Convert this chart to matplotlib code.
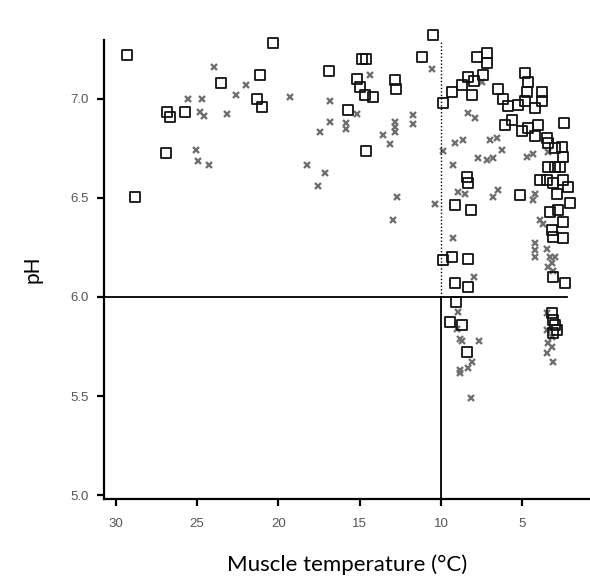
import matplotlib
matplotlib.use("Agg")
import matplotlib.pyplot as plt
from matplotlib.markers import MarkerStyle

# open squares: (muscle temperature, pH)
sq_temp = [29.33, 28.8, 23.55, 21.13, 20.35, 21.34, 21.03, 26.83, 26.67, 25.74, 26.91,
           10.47, 11.19, 16.87, 14.88, 14.61, 15.18, 14.98, 14.67, 14.2, 12.83, 12.77, 15.74,
           14.61, 9.86, 9.34, 8.73, 8.32, 8.0, 8.11, 7.8, 8.42, 8.32, 9.14, 8.17,
           7.19, 7.19, 7.4, 4.83, 4.63, 6.47, 6.16, 5.86, 5.25, 4.73, 4.83, 3.81, 3.81, 4.22,
           6.06, 5.65, 5.04, 4.63, 4.02, 4.22, 3.5, 2.44, 3.4, 2.99, 2.58, 2.48, 2.68, 3.4, 2.99,
           3.91, 3.5, 3.09, 2.48, 2.17, 2.07, 2.89, 5.14, 3.3, 2.78, 2.48, 3.19, 3.09, 2.48,
           3.09, 2.37, 9.86, 9.34, 8.32, 9.14, 8.32,
           9.08, 9.45, 8.73, 8.38, 3.19, 3.09, 2.99, 2.89, 3.09]
sq_ph = [7.22, 6.505, 7.08, 7.12, 7.28, 7.0, 6.955, 6.93, 6.905, 6.93, 6.727,
         7.32, 7.21, 7.14, 7.2, 7.2, 7.097, 7.06, 7.02, 7.01, 7.093, 7.05, 6.94,
         6.737, 6.98, 7.034, 7.07, 7.11, 7.09, 7.02, 7.21, 6.606, 6.573, 6.463, 6.44,
         7.23, 7.18, 7.12, 7.127, 7.085, 7.05, 7.0, 6.96, 6.967, 7.034, 6.99, 7.034, 6.99, 6.95,
         6.866, 6.89, 6.838, 6.85, 6.866, 6.81, 6.8, 6.878, 6.774, 6.75, 6.757, 6.707, 6.657, 6.657, 6.657,
         6.59, 6.59, 6.573, 6.59, 6.556, 6.472, 6.52, 6.514, 6.43, 6.44, 6.38, 6.338, 6.304, 6.295,
         6.1, 6.07, 6.186, 6.2, 6.19, 6.07, 6.05,
         5.976, 5.876, 5.86, 5.725, 5.918, 5.884, 5.86, 5.834, 5.817]

# crosses: (muscle temperature, pH)
cr_temp = [23.96, 22.0, 22.63, 25.54, 24.72, 24.8, 24.6, 23.18, 25.07, 24.93, 24.25, 19.29,
           10.57, 14.4, 16.83, 15.15, 16.83, 15.84, 15.84, 17.44, 12.83, 12.83, 12.83, 13.55,
           13.14, 11.7, 11.7, 9.86, 18.26, 17.13, 17.55, 12.69, 10.37, 12.93, 8.32, 7.9,
           9.14, 8.67, 9.24, 7.7, 8.93, 8.52,
           7.5, 6.99, 6.57, 6.27, 7.19, 6.78, 4.73, 4.32, 3.4, 6.78, 6.47, 4.32, 4.22,
           3.91, 3.71, 4.22, 4.22, 4.22, 3.5, 3.3, 3.2, 3.4, 3.1, 3.0, 9.24, 8.0, 8.93, 3.5,
           9.03, 8.83, 8.73, 7.64, 8.11, 8.32, 8.83, 8.83, 8.17,
           3.5, 3.4, 3.5, 3.09, 3.19, 3.19]
cr_ph = [7.157, 7.07, 7.02, 7.0, 7.0, 6.93, 6.91, 6.92, 6.74, 6.685, 6.665, 7.01,
         7.15, 7.12, 6.99, 6.92, 6.88, 6.875, 6.845, 6.83, 6.88, 6.855, 6.83, 6.815,
         6.77, 6.917, 6.87, 6.737, 6.665, 6.626, 6.56, 6.505, 6.467, 6.39, 6.925, 6.9,
         6.777, 6.79, 6.665, 6.7, 6.53, 6.52,
         7.085, 6.79, 6.8, 6.74, 6.69, 6.7, 6.707, 6.72, 6.73, 6.505, 6.54, 6.49, 6.52,
         6.39, 6.37, 6.27, 6.237, 6.2, 6.24, 6.2, 6.17, 6.15, 6.13, 6.2, 6.295, 6.1, 5.926, 5.92,
         5.84, 5.79, 5.78, 5.78, 5.674, 5.64, 5.632, 5.616, 5.49,
         5.834, 5.767, 5.716, 5.674, 5.8, 5.75]

x_ticks = [30, 25, 20, 15, 10, 5]
y_ticks = [5.0, 5.5, 6.0, 6.5, 7.0]

fig = plt.figure(figsize=(5.90, 5.79), dpi=100)
ax = fig.add_axes([104 / 590, 80 / 579, 486 / 590, 459 / 579])

ax.plot(cr_temp, cr_ph, ls="none", marker="x", ms=5, mew=1.7, color="#707070", clip_on=False)
ax.plot(sq_temp, sq_ph, ls="none", marker=MarkerStyle("s", joinstyle="round"),
        ms=6.6, mew=1.3, mfc="none", mec="#111111", clip_on=False)

# reference lines
ax.plot([30.73, 2.25], [6.0, 6.0], color="black", lw=1.3)
ax.plot([10, 10], [4.982, 6.0], color="black", lw=1.3)
ax.plot([10, 10], [6.0, 7.29], color="black", lw=1.0, ls=(0, (1, 1.5)))

ax.set_xlim(30.73, 0.84)
ax.set_ylim(4.982, 7.295)
ax.set_xticks(x_ticks)
ax.set_yticks(y_ticks)
ax.set_yticklabels([f"{v:.1f}" for v in y_ticks])

for s in ["top", "right"]:
    ax.spines[s].set_visible(False)
for s in ["left", "bottom"]:
    ax.spines[s].set_linewidth(1.6)
ax.tick_params(direction="out", length=5, width=1.6, labelsize=9.5,
               labelcolor="#555555", pad=6)
ax.tick_params(axis="x", pad=9)
for lab in ax.get_xticklabels() + ax.get_yticklabels():
    lab.set_family("Liberation Sans")

ax.set_ylabel("pH", fontsize=15, family="Lato", labelpad=20)
ax.set_xlabel("Muscle temperature (°C)", fontsize=16, family="Lato", labelpad=17)

fig.savefig("out.png", dpi=100)
